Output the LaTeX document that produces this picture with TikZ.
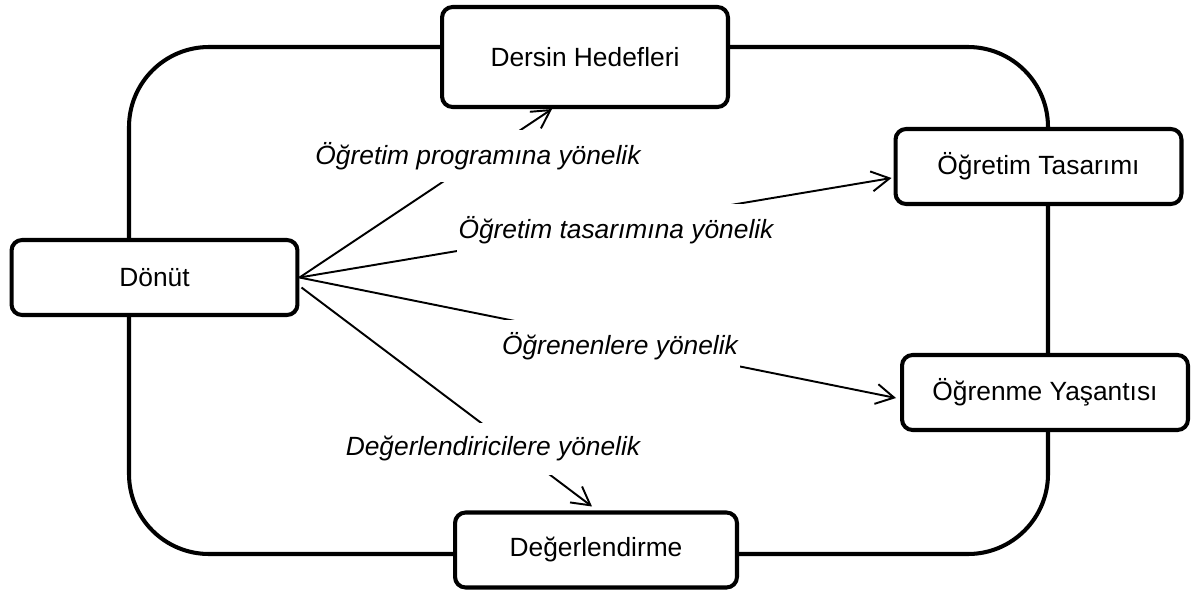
\documentclass[tikz,border=0pt]{standalone}
\usepackage{fontspec}
\setmainfont{Liberation Sans}
\usetikzlibrary{positioning, arrows.meta, calc}
\tikzset{
  every node/.style={font=\fontsize{15}{18}\selectfont},
  box/.style={draw, rounded corners=6pt, line width=2.3pt, fill=white, align=center,
              minimum width=5.72cm, minimum height=1.5cm},
  lbl/.style={fill=white, font=\fontsize{15}{18}\selectfont\itshape, inner xsep=1pt,
              minimum height=1.04cm},
  arr/.style={-{Straight Barb[length=3.6mm, width=4mm]}, line width=1.1pt},
  loopline/.style={line width=2.3pt, rounded corners=1.6cm},
}

\begin{document}
\begin{tikzpicture}[x=0.02cm, y=-0.02cm]
  \useasboundingbox (0,0) rectangle (1193,592);
  % the cycle behind the stations
  \draw[loopline] (129,47) rectangle (1048,554);
  % stations of the cycle
  \node[box, minimum height=2cm] (hed) at (585,57) {Dersin Hedefleri};
  \node[box] (tas) at (1038.5,166.5) {Öğretim Tasarımı};
  \node[box] (yas) at (1045,392.5) {Öğrenme Yaşantısı};
  \node[box, minimum width=5.64cm] (deg) at (596,550) {Değerlendirme};
  \node[box] (dnt) at (154.5,277.5) {Dönüt};
  % feedback arrows out of Dönüt
  \draw[arr] (dnt.east) -- ($(hed.south)+(-33,0)$);
  \draw[arr] (dnt.east) -- ($(tas.west)+(-2,11.5)$);
  \draw[arr] (dnt.east) -- ($(yas.west)+(-4,5.5)$);
  \draw[arr] ($(dnt.east)+(2,10)$) -- ($(deg.north)+(-4,-4)$);
  % labels laid over the arrows
  \node[lbl] (lprog) at (478,156) {Öğretim programına yönelik};
  \node[lbl] (ltas) at (616,230) {Öğretim tasarımına yönelik};
  \node[lbl] (logr) at (620,346) {Öğrenenlere yönelik};
  \node[lbl] (ldeg) at (493,449) {Değerlendiricilere yönelik};
\end{tikzpicture}
\end{document}
